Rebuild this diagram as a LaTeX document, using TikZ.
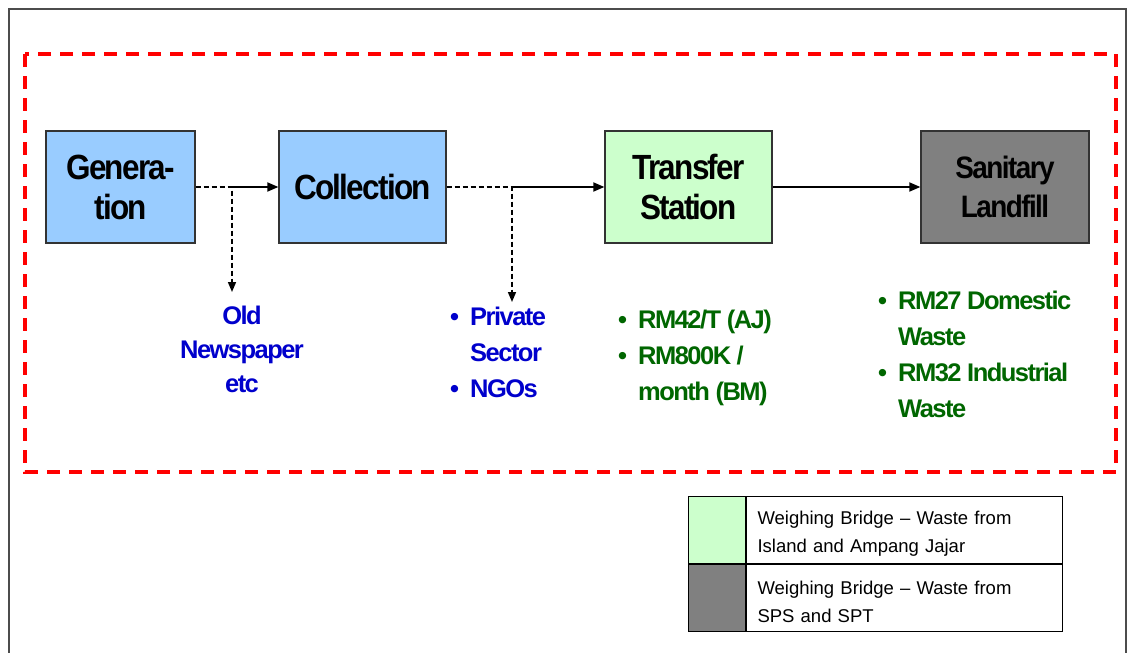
\documentclass[tikz,border=0pt]{standalone}
\usepackage{fontspec}
\setmainfont{Liberation Sans}
\newfontfamily\boxfont[FakeStretch=0.9,LetterSpace=-5]{Liberation Sans}
\newfontfamily\notefont[LetterSpace=-6]{Liberation Sans}
\usetikzlibrary{arrows.meta}
\definecolor{boxblue}{HTML}{99CCFF}
\definecolor{boxgreen}{HTML}{CCFFCC}
\definecolor{boxgray}{HTML}{808080}
\definecolor{noteblue}{HTML}{0000CC}
\definecolor{notegreen}{HTML}{006600}
\newcommand{\bul}{\makebox[20pt][l]{\textbullet}}
\newcommand{\ind}{\hspace*{20pt}}

\begin{document}
\begin{tikzpicture}[x=1pt,y=-1pt,
 stage/.style={draw=black!80,line width=1.3pt,minimum height=112pt,align=center,inner sep=0pt,
   font=\boxfont\bfseries\fontsize{35}{40}\selectfont},
 flow/.style={line width=1.8pt,-{Triangle[length=11pt,width=9pt]}},
 side/.style={line width=1.6pt,dash pattern=on 5pt off 3pt,-{Triangle[length=10pt,width=8pt]}},
 note/.style={inner sep=0pt,align=left,anchor=base west,font=\notefont\bfseries\fontsize{25.5}{36}\selectfont},
 keycell/.style={draw=black,line width=1pt,minimum height=67pt,inner sep=0pt,anchor=north west},
 keytext/.style={keycell,minimum width=316pt,inner xsep=11pt,text width=294pt,align=left,
   font=\fontsize{18.5}{28}\selectfont}]
\useasboundingbox (0,0) rectangle (1130,653);
% frame and the dashed red border
\draw[black!70,line width=2pt] (9,653)--(9,9)--(1126,9)--(1126,653);
\draw[red,line width=4pt,dash pattern=on 13pt off 9pt] (25,54) rectangle (1116,472);

% the four stages
\node[stage,fill=boxblue,minimum width=149pt] (gen) at (120.5,187) {Genera-\\tion};
\node[stage,fill=boxblue,minimum width=167pt] (col) at (362.5,187) {Collection};
\node[stage,fill=boxgreen,minimum width=167pt] (ts) at (688.5,187) {Transfer\\Station};
\node[stage,fill=boxgray,minimum width=168pt,font=\boxfont\bfseries\fontsize{31}{39}\selectfont] (sl) at (1005,187) {Sanitary\\Landfill};

% flows, with the side branches
\coordinate (genbr) at (232,187);
\coordinate (oldtip) at (232,292);
\coordinate (colbr) at (512,187);
\coordinate (sectip) at (512,302);
\draw[flow] (genbr) -- (col);
\draw[flow] (colbr) -- (ts);
\draw[flow] (ts) -- (sl);
\draw[side] (gen) -- (genbr) -- (oldtip);
\draw[side] (col) -- (colbr) -- (sectip);

% notes under the stages (placed at the last baseline)
\node[note,align=center,anchor=base,text=noteblue,font=\notefont\bfseries\fontsize{25.5}{34}\selectfont]
 (old) at (242,392) {Old\\Newspaper\\etc};
\node[note,text=noteblue] (sec) at (450,397) {\bul Private\\\ind Sector\\\bul NGOs};
\node[note,text=notegreen] (tsfee) at (618,400) {\bul RM42/T (AJ)\\\bul RM800K /\\\ind month (BM)};
\node[note,text=notegreen] (slfee) at (878,417) {\bul RM27 Domestic\\\ind Waste\\\bul RM32 Industrial\\\ind Waste};

% key
\node[keycell,fill=boxgreen,minimum width=57pt] (sw1) at (688,496) {};
\node[keycell,fill=boxgray,minimum width=57pt] (sw2) at (sw1.south west) {};
\node[keytext] (kt1) at (sw1.north east) {\rule{0pt}{21pt}Weighing Bridge -- Waste from\\Island and Ampang Jajar};
\node[keytext] (kt2) at (sw2.north east) {\rule{0pt}{21pt}Weighing Bridge -- Waste from\\SPS and SPT};
\end{tikzpicture}
\end{document}
